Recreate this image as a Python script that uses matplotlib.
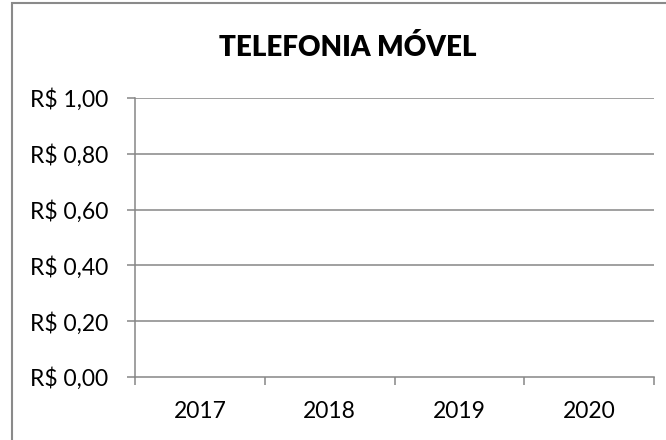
import matplotlib
matplotlib.use("Agg")
import matplotlib.pyplot as plt
import matplotlib.ticker as mticker
from matplotlib.patches import Rectangle
import numpy as np

title = "TELEFONIA MÓVEL"
categories = ["2017", "2018", "2019", "2020"]
values = [np.nan, np.nan, np.nan, np.nan]  # no visible data in the reference
y_ticks = [0.0, 0.2, 0.4, 0.6, 0.8, 1.0]

W, H = 666, 440
plt.rcParams['font.family'] = ['Lato', 'DejaVu Sans']
fig = plt.figure(figsize=(W / 100, H / 100), dpi=100)

# outer chart border (right and bottom edges fall outside the image)
fig.patches.append(Rectangle((11.5 / W, 1 - 460 / H), 700 / W, (460 - 3.5) / H,
                             transform=fig.transFigure, fill=False,
                             edgecolor='#8a8a8a', linewidth=1.5))

left, right, top, bottom = 135, 654, 98, 377
ax = fig.add_axes([left / W, 1 - bottom / H, (right - left) / W, (bottom - top) / H])

x = np.arange(len(categories))
ax.plot(x, values, color='#4472C4')

ax.set_xlim(-0.5, len(categories) - 0.5)
ax.set_ylim(0, 1.0)

grid_c = '#868686'
ax.set_yticks(y_ticks)
ax.yaxis.set_major_formatter(mticker.FuncFormatter(lambda v, p: ("R$ %.2f" % v).replace('.', ',')))
for yv in y_ticks[1:]:
    ax.axhline(yv, color=grid_c, linewidth=1.1, zorder=0)

ax.set_xticks(x)
ax.set_xticklabels(categories)
ax.tick_params(axis='x', length=0, pad=17, labelsize=16.5, colors='black')
ax.set_xticks(np.arange(len(categories) + 1) - 0.5, minor=True)
ax.tick_params(axis='x', which='minor', length=5.8, color=grid_c, width=1.1)
ax.tick_params(axis='y', length=5.8, color=grid_c, width=1.1, labelsize=16.5, pad=13.5)

for s in ['top', 'right']:
    ax.spines[s].set_visible(False)
for s in ['left', 'bottom']:
    ax.spines[s].set_color(grid_c)
    ax.spines[s].set_linewidth(1.1)

fig.text(347.5 / W, 1 - 45 / H, title, ha='center', va='center_baseline',
         fontsize=20, fontweight='heavy')

fig.savefig("out.png", dpi=100)
